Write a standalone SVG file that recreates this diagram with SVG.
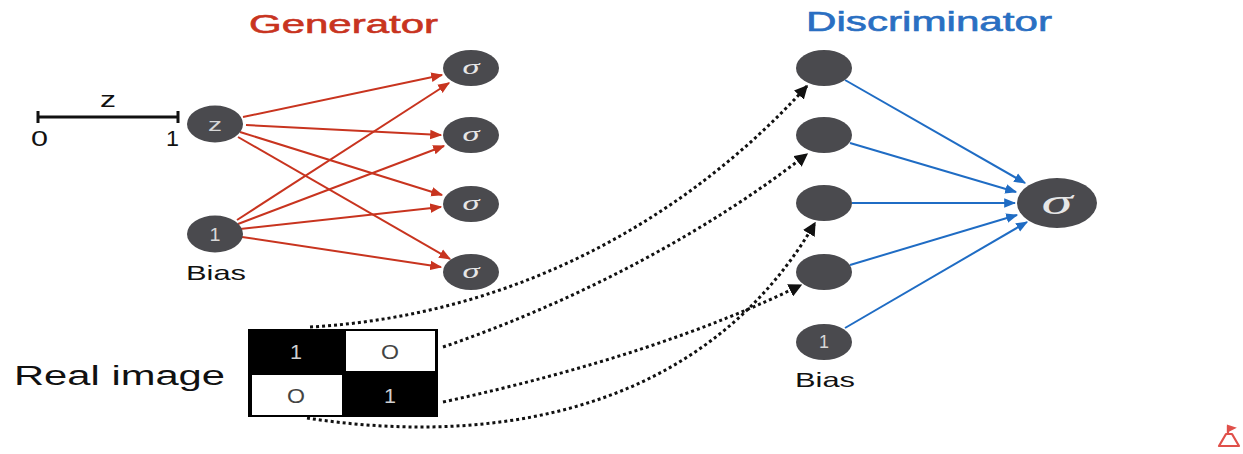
<svg xmlns="http://www.w3.org/2000/svg" width="1243" height="454" viewBox="0 0 1243 454">
  <style>
    .node { fill: #4a4a4e; }
    .lbl { font-family: "Liberation Sans", Arial, sans-serif; }
    .title-gen { fill: #c8341f; font-size: 26px; stroke: #c8341f; stroke-width: 0.6; }
    .title-dis { fill: #2a6fc2; font-size: 27px; stroke: #2a6fc2; stroke-width: 0.6; }
    .dark { fill: #111; }
    .in-node { fill: #d8d8d8; font-size: 18px; text-anchor: middle; }
    .sig { font-family: "Liberation Serif", "DejaVu Serif", serif; font-style: italic; fill: #e6e6e6; text-anchor: middle; }
    .red { stroke: #c8341f; stroke-width: 2; fill: none; }
    .blue { stroke: #1f6cc4; stroke-width: 2; fill: none; }
    .dots { stroke: #111; stroke-width: 3; stroke-dasharray: 3 3; fill: none; }
  </style>
  <defs>
    <marker id="arrRed" viewBox="0 0 10 10" refX="9" refY="5" markerWidth="6" markerHeight="6" markerUnits="strokeWidth" orient="auto">
      <path d="M0,1 L10,5 L0,9 z" fill="#c8341f"/>
    </marker>
    <marker id="arrBlue" viewBox="0 0 10 10" refX="9" refY="5" markerWidth="6" markerHeight="6" markerUnits="strokeWidth" orient="auto">
      <path d="M0,1 L10,5 L0,9 z" fill="#1f6cc4"/>
    </marker>
    <marker id="arrBlack" viewBox="0 0 10 10" refX="9" refY="5" markerWidth="4.5" markerHeight="4.5" markerUnits="strokeWidth" orient="auto">
      <path d="M0,0 L10,5 L0,10 z" fill="#111"/>
    </marker>
  </defs>

  <rect width="1243" height="454" fill="#ffffff"/>

  <!-- titles -->
  <text class="lbl title-gen" x="249" y="33" textLength="189" lengthAdjust="spacingAndGlyphs">Generator</text>
  <text class="lbl title-dis" x="806" y="31" textLength="246" lengthAdjust="spacingAndGlyphs">Discriminator</text>

  <!-- z range scale -->
  <g id="z-scale">
    <line x1="38" y1="117" x2="178" y2="117" stroke="#111" stroke-width="3"/>
    <line x1="38" y1="111" x2="38" y2="123" stroke="#111" stroke-width="3"/>
    <line x1="178" y1="111" x2="178" y2="123" stroke="#111" stroke-width="3"/>
    <text class="lbl dark" x="100" y="107" font-size="22" textLength="16" lengthAdjust="spacingAndGlyphs">z</text>
    <text class="lbl dark" x="31" y="146" font-size="22" textLength="17" lengthAdjust="spacingAndGlyphs">0</text>
    <text class="lbl dark" x="166" y="146" font-size="22" textLength="13" lengthAdjust="spacingAndGlyphs">1</text>
  </g>

  <!-- connectors -->
  <g id="connectors">
    <!-- generator: z and bias to sigma units -->
    <line class="red" x1="243" y1="117" x2="442" y2="75" marker-end="url(#arrRed)"/>
    <line class="red" x1="246" y1="125" x2="441" y2="135" marker-end="url(#arrRed)"/>
    <line class="red" x1="240" y1="132" x2="442" y2="195" marker-end="url(#arrRed)"/>
    <line class="red" x1="238" y1="137" x2="450" y2="259" marker-end="url(#arrRed)"/>
    <line class="red" x1="237" y1="220" x2="449" y2="83" marker-end="url(#arrRed)"/>
    <line class="red" x1="238" y1="224" x2="444" y2="146" marker-end="url(#arrRed)"/>
    <line class="red" x1="240" y1="229" x2="441" y2="207" marker-end="url(#arrRed)"/>
    <line class="red" x1="242" y1="237" x2="441" y2="267" marker-end="url(#arrRed)"/>

    <!-- discriminator: inputs to output unit -->
    <line class="blue" x1="845" y1="80" x2="1025" y2="183" marker-end="url(#arrBlue)"/>
    <line class="blue" x1="850" y1="143" x2="1016" y2="192" marker-end="url(#arrBlue)"/>
    <line class="blue" x1="852" y1="203" x2="1015" y2="203" marker-end="url(#arrBlue)"/>
    <line class="blue" x1="850" y1="265" x2="1017" y2="215" marker-end="url(#arrBlue)"/>
    <line class="blue" x1="845" y1="328" x2="1027" y2="222" marker-end="url(#arrBlue)"/>

    <!-- real image pixels into discriminator inputs -->
    <path class="dots" d="M310,327 C520,315 690,215 807,86" marker-end="url(#arrBlack)"/>
    <path class="dots" d="M443,347 C580,300 710,230 807,154" marker-end="url(#arrBlack)"/>
    <path class="dots" d="M443,402 C590,370 710,330 801,285" marker-end="url(#arrBlack)"/>
    <path class="dots" d="M307,418 C480,445 700,420 815,223" marker-end="url(#arrBlack)"/>
  </g>

  <!-- generator nodes -->
  <g id="gen-z">
    <ellipse class="node" cx="215" cy="124" rx="28" ry="18.5"/>
    <text class="lbl in-node" x="215" y="131" textLength="14" lengthAdjust="spacingAndGlyphs">z</text>
  </g>
  <g id="gen-bias">
    <ellipse class="node" cx="215" cy="234" rx="28" ry="18.5"/>
    <text class="lbl in-node" x="215" y="241" textLength="11" lengthAdjust="spacingAndGlyphs">1</text>
    <text class="lbl dark" x="186" y="280" font-size="21" textLength="60" lengthAdjust="spacingAndGlyphs">Bias</text>
  </g>
  <g id="gen-s1">
    <ellipse class="node" cx="471" cy="68" rx="28" ry="18"/>
    <text class="sig" x="471" y="74" font-size="21" textLength="17" lengthAdjust="spacingAndGlyphs">σ</text>
  </g>
  <g id="gen-s2">
    <ellipse class="node" cx="471" cy="135" rx="28" ry="18"/>
    <text class="sig" x="471" y="141" font-size="21" textLength="17" lengthAdjust="spacingAndGlyphs">σ</text>
  </g>
  <g id="gen-s3">
    <ellipse class="node" cx="471" cy="204" rx="28" ry="18"/>
    <text class="sig" x="471" y="210" font-size="21" textLength="17" lengthAdjust="spacingAndGlyphs">σ</text>
  </g>
  <g id="gen-s4">
    <ellipse class="node" cx="471" cy="272" rx="28" ry="18"/>
    <text class="sig" x="471" y="278" font-size="21" textLength="17" lengthAdjust="spacingAndGlyphs">σ</text>
  </g>

  <!-- discriminator nodes -->
  <g id="dis-in1"><ellipse class="node" cx="824" cy="68" rx="28" ry="18"/></g>
  <g id="dis-in2"><ellipse class="node" cx="824" cy="135" rx="28" ry="18"/></g>
  <g id="dis-in3"><ellipse class="node" cx="824" cy="203" rx="28" ry="18"/></g>
  <g id="dis-in4"><ellipse class="node" cx="824" cy="272" rx="28" ry="18"/></g>
  <g id="dis-bias">
    <ellipse class="node" cx="824" cy="342" rx="28" ry="18"/>
    <text class="lbl in-node" x="824" y="348" font-size="16" textLength="10" lengthAdjust="spacingAndGlyphs">1</text>
    <text class="lbl dark" x="795" y="387" font-size="21" textLength="60" lengthAdjust="spacingAndGlyphs">Bias</text>
  </g>
  <g id="dis-out">
    <ellipse class="node" cx="1057" cy="203" rx="40" ry="25"/>
    <text class="sig" x="1057" y="214" font-size="36" textLength="31" lengthAdjust="spacingAndGlyphs">σ</text>
  </g>

  <!-- real image: 2x2 pixel grid -->
  <g id="real-image">
    <text class="lbl dark" x="14" y="385" font-size="27" textLength="211" lengthAdjust="spacingAndGlyphs">Real image</text>
    <rect x="248" y="329" width="190" height="88" fill="#000"/>
    <rect x="346" y="331" width="89" height="40" fill="#fff"/>
    <rect x="252" y="375" width="90" height="40" fill="#fff"/>
    <text class="lbl" x="296" y="359" font-size="20" fill="#d0d0d0" text-anchor="middle" textLength="12" lengthAdjust="spacingAndGlyphs">1</text>
    <text class="lbl" x="390" y="359" font-size="20" fill="#444" text-anchor="middle" textLength="18" lengthAdjust="spacingAndGlyphs">O</text>
    <text class="lbl" x="296" y="403" font-size="20" fill="#444" text-anchor="middle" textLength="18" lengthAdjust="spacingAndGlyphs">O</text>
    <text class="lbl" x="390" y="403" font-size="20" fill="#d0d0d0" text-anchor="middle" textLength="12" lengthAdjust="spacingAndGlyphs">1</text>
  </g>

  <!-- small corner mark -->
  <g id="corner-mark" fill="none" stroke="#e0504a" stroke-width="2.2">
    <path d="M1226,434 L1219,446 L1239,446 L1232,434 Z" stroke-linejoin="round"/>
    <path d="M1228,434 L1228,426"/>
    <path d="M1228,426 L1234,428 L1228,431 Z" fill="#e0504a"/>
  </g>
</svg>
